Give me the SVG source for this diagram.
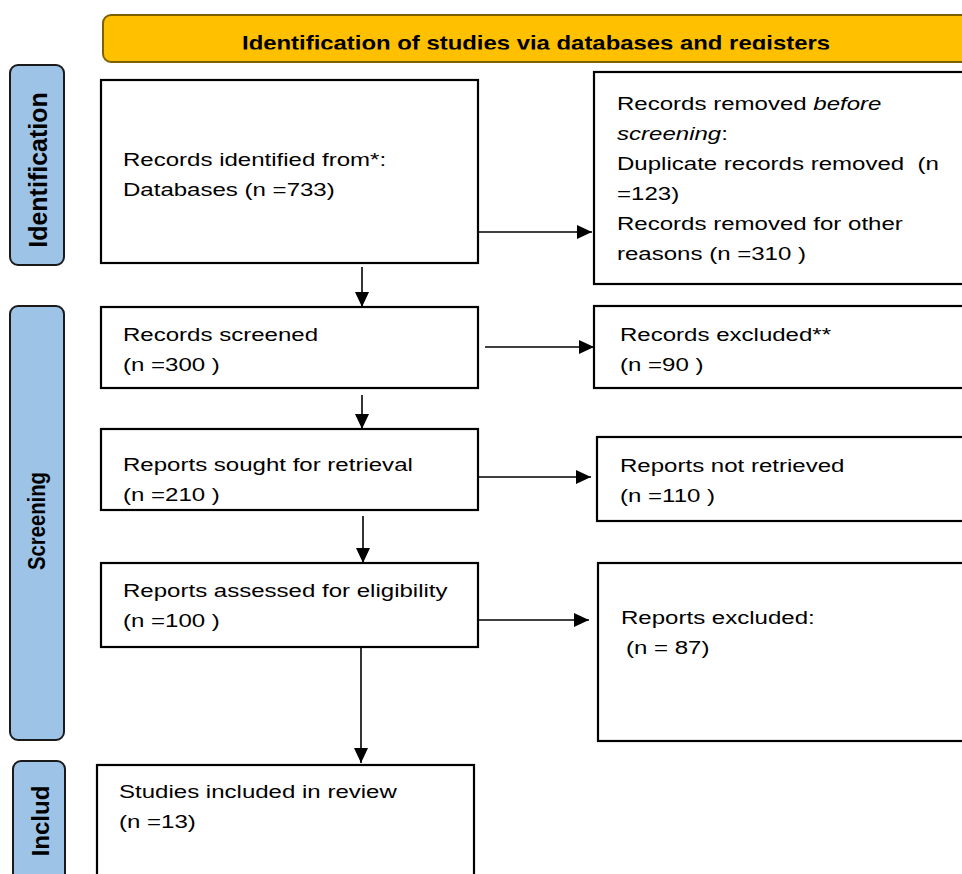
<svg xmlns="http://www.w3.org/2000/svg" width="962" height="874" viewBox="0 0 962 874">
<style>
.box{fill:#fff;stroke:#000;stroke-width:2.2}
.side{fill:#9DC3E6;stroke:#1a1a1a;stroke-width:2}
.t{font-family:"Liberation Sans",Arial,sans-serif;font-size:18.5px;fill:#000}
.sl{font-family:"Liberation Sans",Arial,sans-serif;font-weight:bold;fill:#000;text-anchor:middle}
.hd{font-family:"Liberation Sans",Arial,sans-serif;font-weight:bold;font-size:21px;fill:#000}
.c{stroke:#000;stroke-width:1.6;fill:none}
</style>
<defs>
<marker id="ah" markerWidth="15" markerHeight="14" refX="15" refY="7" orient="auto" markerUnits="userSpaceOnUse">
<path d="M0,0 L15,7 L0,14 Z" fill="#000"/>
</marker>
<clipPath id="hclip"><rect x="100" y="10" width="870" height="39.5"/></clipPath>
</defs>

<g id="header">
<rect x="103" y="15" width="900" height="47" rx="8" fill="#FFC000" stroke="#7F6000" stroke-width="2"/>
<text class="hd" x="242" y="50" textLength="588" lengthAdjust="spacingAndGlyphs" clip-path="url(#hclip)">Identification of studies via databases and registers</text>
</g>

<g id="label-identification">
<rect class="side" x="10" y="65" width="54" height="200" rx="8"/>
<text class="sl" font-size="25" transform="translate(47,170) rotate(-90)">Identification</text>
</g>
<g id="label-screening">
<rect class="side" x="10" y="306" width="54" height="434" rx="8"/>
<text class="sl" font-size="24" textLength="98" lengthAdjust="spacingAndGlyphs" transform="translate(45,521) rotate(-90)">Screening</text>
</g>
<g id="label-included">
<rect class="side" x="13" y="761" width="52" height="140" rx="8"/>
<text class="sl" font-size="24" transform="translate(49,821) rotate(-90)">Includ</text>
</g>

<g id="records-identified">
<rect class="box" x="101" y="80" width="377" height="183"/>
<text class="t" transform="translate(123,166) scale(1.3,1)">Records identified from*:</text>
<text class="t" transform="translate(123,196) scale(1.3,1)">Databases (n =733)</text>
</g>

<g id="records-removed">
<rect class="box" x="594" y="72" width="400" height="212"/>
<text class="t" transform="translate(617,110) scale(1.3,1)">Records removed <tspan font-style="italic">before</tspan></text>
<text class="t" transform="translate(617,140) scale(1.3,1)"><tspan font-style="italic">screening</tspan>:</text>
<text class="t" transform="translate(617,170) scale(1.3,1)" xml:space="preserve">Duplicate records removed  (n</text>
<text class="t" transform="translate(617,200) scale(1.3,1)">=123)</text>
<text class="t" transform="translate(617,230) scale(1.3,1)">Records removed for other</text>
<text class="t" transform="translate(617,260) scale(1.3,1)">reasons (n =310 )</text>
</g>

<g id="records-screened">
<rect class="box" x="101" y="307" width="377" height="81"/>
<text class="t" transform="translate(123,341) scale(1.3,1)">Records screened</text>
<text class="t" transform="translate(123,371) scale(1.3,1)">(n =300 )</text>
</g>

<g id="records-excluded">
<rect class="box" x="594" y="306" width="400" height="82"/>
<text class="t" transform="translate(620,341) scale(1.3,1)">Records excluded**</text>
<text class="t" transform="translate(620,371) scale(1.3,1)">(n =90 )</text>
</g>

<g id="reports-sought">
<rect class="box" x="101" y="429" width="377" height="81"/>
<text class="t" transform="translate(123,471) scale(1.3,1)">Reports sought for retrieval</text>
<text class="t" transform="translate(123,501) scale(1.3,1)">(n =210 )</text>
</g>

<g id="reports-not-retrieved">
<rect class="box" x="597" y="437" width="400" height="84"/>
<text class="t" transform="translate(620,472) scale(1.3,1)">Reports not retrieved</text>
<text class="t" transform="translate(620,502) scale(1.3,1)">(n =110 )</text>
</g>

<g id="reports-assessed">
<rect class="box" x="101" y="563" width="377" height="84"/>
<text class="t" transform="translate(123,597) scale(1.3,1)">Reports assessed for eligibility</text>
<text class="t" transform="translate(123,627) scale(1.3,1)">(n =100 )</text>
</g>

<g id="reports-excluded">
<rect class="box" x="598" y="563" width="400" height="178"/>
<text class="t" transform="translate(621,624) scale(1.3,1)">Reports excluded:</text>
<text class="t" transform="translate(626,654) scale(1.3,1)">(n = 87)</text>
</g>

<g id="studies-included">
<rect class="box" x="97" y="765" width="377" height="140"/>
<text class="t" transform="translate(119,798) scale(1.3,1)">Studies included in review</text>
<text class="t" transform="translate(119,828) scale(1.3,1)">(n =13)</text>
</g>

<g id="connectors">
<line class="c" x1="478" y1="232" x2="592" y2="232" marker-end="url(#ah)"/>
<line class="c" x1="362" y1="267" x2="362" y2="307" marker-end="url(#ah)"/>
<line class="c" x1="485" y1="347" x2="594" y2="347" marker-end="url(#ah)"/>
<line class="c" x1="362" y1="395" x2="362" y2="429" marker-end="url(#ah)"/>
<line class="c" x1="478" y1="477" x2="591" y2="477" marker-end="url(#ah)"/>
<line class="c" x1="363" y1="516" x2="363" y2="563" marker-end="url(#ah)"/>
<line class="c" x1="478" y1="620" x2="589" y2="620" marker-end="url(#ah)"/>
<line class="c" x1="361" y1="646" x2="361" y2="763" marker-end="url(#ah)"/>
</g>
</svg>
